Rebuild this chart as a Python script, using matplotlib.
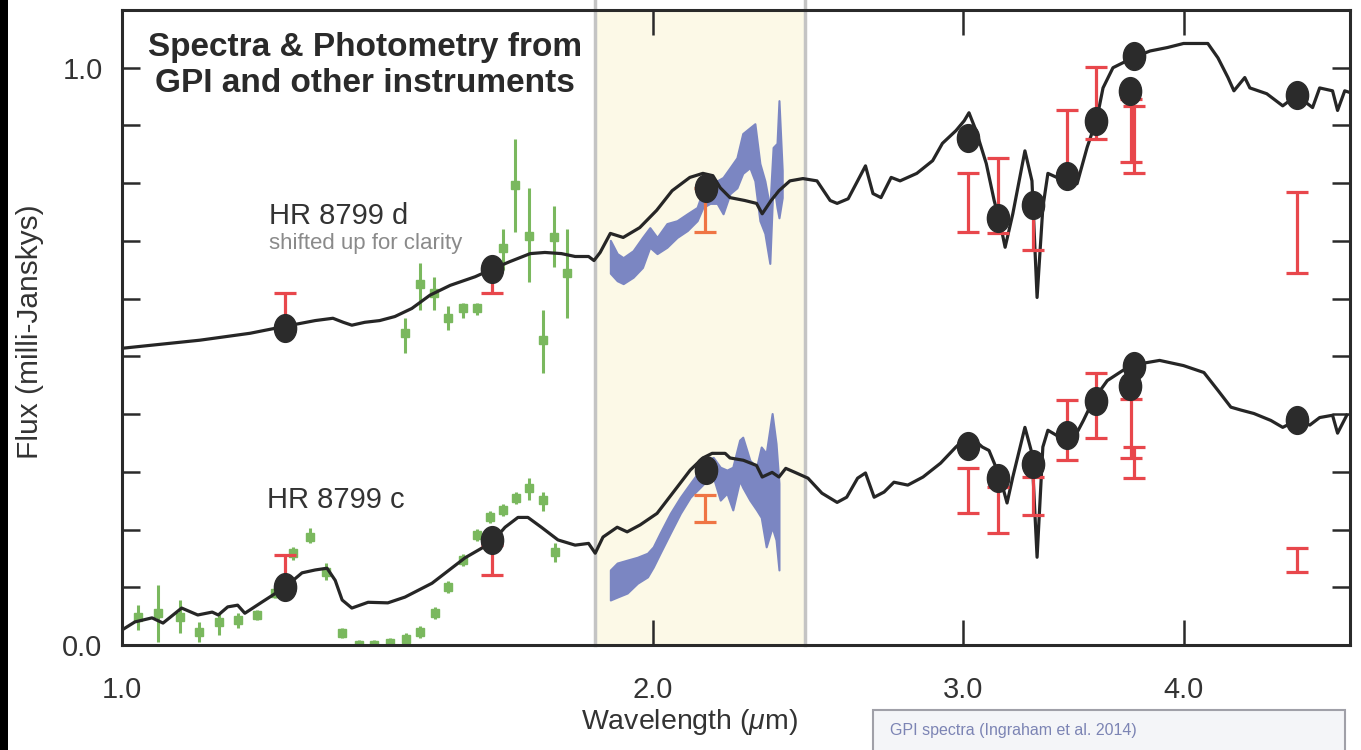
import matplotlib
matplotlib.use("Agg")
import matplotlib.pyplot as plt
from matplotlib.path import Path
from matplotlib.transforms import Affine2D
from matplotlib.patches import Rectangle
from matplotlib.ticker import NullLocator

plt.rcParams['font.family'] = ['Liberation Sans', 'DejaVu Sans']
plt.rcParams['mathtext.fontset'] = 'custom'
plt.rcParams['mathtext.rm'] = 'Liberation Sans'
plt.rcParams['mathtext.it'] = 'Liberation Sans:italic'

## Model spectra (wavelength in um, flux in mJy)
model_d_wl = [1.000, 1.107, 1.182, 1.237, 1.287, 1.317, 1.335, 1.350, 1.373, 1.400, 1.428, 1.460,
              1.495, 1.535, 1.586, 1.621, 1.659, 1.704, 1.737, 1.775, 1.807, 1.839, 1.852, 1.867,
              1.892, 1.924, 1.966, 2.010, 2.051, 2.099, 2.135, 2.163, 2.184, 2.212, 2.255, 2.290,
              2.307, 2.334, 2.358, 2.392, 2.433, 2.478, 2.521, 2.544, 2.581, 2.613, 2.640, 2.666,
              2.694, 2.730, 2.762, 2.823, 2.882, 2.919, 2.971, 3.003, 3.022, 3.050, 3.091, 3.123,
              3.147, 3.168, 3.200, 3.251, 3.281, 3.303, 3.328, 3.350, 3.389, 3.448, 3.480, 3.526,
              3.572, 3.600, 3.647, 3.742, 3.828, 3.916, 3.999, 4.128, 4.183, 4.238, 4.271, 4.332,
              4.361, 4.458, 4.552, 4.635, 4.733, 4.777, 4.858, 4.890, 4.936, 4.970]
model_d_flux = [0.514, 0.528, 0.540, 0.552, 0.562, 0.566, 0.559, 0.554, 0.559, 0.562, 0.569, 0.583,
                0.606, 0.623, 0.638, 0.651, 0.664, 0.678, 0.680, 0.678, 0.673, 0.673, 0.666, 0.680,
                0.713, 0.706, 0.723, 0.753, 0.787, 0.810, 0.817, 0.813, 0.792, 0.775, 0.770, 0.765,
                0.747, 0.770, 0.787, 0.804, 0.808, 0.804, 0.770, 0.765, 0.773, 0.804, 0.830, 0.782,
                0.775, 0.810, 0.804, 0.817, 0.839, 0.869, 0.891, 0.908, 0.922, 0.891, 0.834, 0.770,
                0.732, 0.689, 0.747, 0.856, 0.804, 0.602, 0.758, 0.817, 0.810, 0.817, 0.799, 0.862,
                0.913, 0.965, 1.000, 1.017, 1.029, 1.035, 1.042, 1.042, 1.017, 0.983, 0.960, 0.983,
                0.965, 0.955, 0.934, 0.952, 0.931, 0.965, 0.960, 0.926, 0.960, 0.957]

model_c_wl = [1.000, 1.017, 1.040, 1.055, 1.081, 1.104, 1.125, 1.134, 1.148, 1.163, 1.174, 1.200,
              1.237, 1.265, 1.287, 1.307, 1.321, 1.333, 1.350, 1.379, 1.415, 1.447, 1.499, 1.565,
              1.621, 1.649, 1.677, 1.699, 1.729, 1.767, 1.807, 1.839, 1.855, 1.874, 1.909, 1.934,
              1.967, 2.011, 2.064, 2.100, 2.135, 2.161, 2.198, 2.212, 2.251, 2.290, 2.307, 2.337,
              2.358, 2.379, 2.408, 2.449, 2.494, 2.544, 2.576, 2.613, 2.640, 2.670, 2.705, 2.740,
              2.790, 2.846, 2.912, 2.971, 3.022, 3.075, 3.102, 3.147, 3.176, 3.200, 3.251, 3.281,
              3.303, 3.328, 3.350, 3.402, 3.462, 3.509, 3.554, 3.620, 3.696, 3.792, 3.876, 3.999,
              4.107, 4.183, 4.254, 4.310, 4.384, 4.482, 4.552, 4.635, 4.716, 4.777, 4.858, 4.890, 4.949]
model_c_flux = [0.026, 0.040, 0.047, 0.038, 0.064, 0.052, 0.057, 0.052, 0.066, 0.069, 0.055, 0.074,
                0.100, 0.125, 0.130, 0.133, 0.112, 0.078, 0.064, 0.074, 0.073, 0.083, 0.107, 0.151,
                0.178, 0.204, 0.221, 0.221, 0.204, 0.182, 0.173, 0.176, 0.159, 0.187, 0.204, 0.196,
                0.208, 0.228, 0.273, 0.303, 0.324, 0.332, 0.332, 0.324, 0.320, 0.311, 0.291, 0.299,
                0.291, 0.306, 0.299, 0.289, 0.263, 0.247, 0.256, 0.289, 0.298, 0.256, 0.265, 0.282,
                0.277, 0.291, 0.315, 0.343, 0.363, 0.343, 0.337, 0.291, 0.246, 0.291, 0.377, 0.332,
                0.152, 0.343, 0.372, 0.360, 0.355, 0.389, 0.424, 0.458, 0.476, 0.488, 0.493, 0.484,
                0.472, 0.441, 0.412, 0.407, 0.401, 0.389, 0.377, 0.389, 0.381, 0.394, 0.398, 0.367, 0.398]

## Photometry (black dots)
phot_wl = [1.237, 1.621, 2.144, 3.018, 3.140, 3.285, 3.435, 3.567, 3.750, 3.730, 4.635]
phot_d = [0.550, 0.652, 0.791, 0.879, 0.739, 0.763, 0.813, 0.907, 1.021, 0.960, 0.953]
phot_c = [0.100, 0.182, 0.303, 0.344, 0.289, 0.313, 0.363, 0.422, 0.483, 0.448, 0.389]

## Other instruments photometry (red error ranges), the K-band one is orange
red_wl = [1.237, 1.621, 3.018, 3.140, 3.285, 3.435, 3.567, 3.732, 3.747, 4.635]
red_d_lo = [0.550, 0.609, 0.715, 0.713, 0.684, 0.818, 0.877, 0.836, 0.817, 0.644]
red_d_hi = [0.609, 0.652, 0.817, 0.844, 0.761, 0.926, 1.002, 0.946, 0.934, 0.784]
red_c_lo = [0.100, 0.121, 0.228, 0.194, 0.225, 0.320, 0.358, 0.324, 0.289, 0.126]
red_c_hi = [0.156, 0.173, 0.306, 0.273, 0.291, 0.424, 0.472, 0.427, 0.343, 0.168]
orange_wl = [2.141]
orange_d_lo, orange_d_hi = [0.715], [0.791]
orange_c_lo, orange_c_hi = [0.213], [0.260]

## Green spectra from other instruments
green_d_wl = [1.447, 1.476, 1.503, 1.530, 1.561, 1.590, 1.644, 1.670, 1.702, 1.733, 1.758, 1.788]
green_d = [0.540, 0.626, 0.609, 0.567, 0.583, 0.583, 0.687, 0.796, 0.709, 0.528, 0.706, 0.644]
green_d_lo = [0.505, 0.580, 0.580, 0.545, 0.566, 0.571, 0.649, 0.715, 0.628, 0.471, 0.654, 0.567]
green_d_hi = [0.567, 0.661, 0.637, 0.588, 0.593, 0.593, 0.721, 0.877, 0.791, 0.580, 0.761, 0.721]

green_c_wl = [1.021, 1.048, 1.079, 1.106, 1.135, 1.164, 1.193, 1.221, 1.250, 1.278, 1.305, 1.333,
              1.363, 1.390, 1.419, 1.449, 1.476, 1.505, 1.530, 1.561, 1.590, 1.617, 1.644, 1.672,
              1.702, 1.733, 1.760]
green_c = [0.048, 0.055, 0.048, 0.022, 0.040, 0.043, 0.052, 0.090, 0.159, 0.187, 0.126, 0.021,
           0.000, 0.000, 0.003, 0.010, 0.022, 0.055, 0.100, 0.147, 0.190, 0.221, 0.234, 0.254,
           0.272, 0.251, 0.161]
green_c_lo = [0.026, 0.005, 0.021, 0.005, 0.017, 0.029, 0.043, 0.081, 0.147, 0.176, 0.112, 0.012,
              -0.008, -0.008, -0.005, 0.000, 0.012, 0.045, 0.090, 0.137, 0.180, 0.211, 0.223, 0.244,
              0.251, 0.232, 0.144]
green_c_hi = [0.069, 0.104, 0.078, 0.040, 0.055, 0.055, 0.061, 0.099, 0.170, 0.202, 0.142, 0.029,
              0.008, 0.008, 0.012, 0.020, 0.033, 0.066, 0.111, 0.158, 0.201, 0.232, 0.244, 0.265,
              0.289, 0.265, 0.177]

## GPI spectra (blue, lower / upper envelope)
gpi_d_wl = [1.892, 1.909, 1.924, 1.949, 1.973, 1.992, 2.011, 2.037, 2.064, 2.092, 2.119, 2.135,
            2.155, 2.175, 2.192, 2.212, 2.232, 2.249, 2.270, 2.285, 2.300, 2.315, 2.330, 2.340,
            2.352, 2.358, 2.368]
gpi_d_lo = [0.644, 0.631, 0.626, 0.637, 0.654, 0.689, 0.678, 0.689, 0.706, 0.718, 0.735, 0.758,
            0.765, 0.765, 0.747, 0.782, 0.792, 0.817, 0.827, 0.804, 0.735, 0.713, 0.661, 0.804,
            0.758, 0.740, 0.775]
gpi_d_hi = [0.701, 0.678, 0.671, 0.683, 0.706, 0.723, 0.706, 0.730, 0.735, 0.747, 0.758, 0.787,
            0.810, 0.804, 0.810, 0.827, 0.844, 0.886, 0.896, 0.903, 0.834, 0.804, 0.758, 0.862,
            0.869, 0.943, 0.822]
gpi_c_wl = [1.892, 1.909, 1.934, 1.960, 1.986, 2.001, 2.019, 2.046, 2.073, 2.100, 2.127, 2.146,
            2.164, 2.184, 2.203, 2.220, 2.240, 2.249, 2.270, 2.290, 2.304, 2.319, 2.337, 2.349, 2.358]
gpi_c_lo = [0.078, 0.083, 0.090, 0.107, 0.118, 0.135, 0.159, 0.194, 0.228, 0.256, 0.273, 0.285,
            0.291, 0.251, 0.263, 0.234, 0.285, 0.273, 0.251, 0.234, 0.221, 0.170, 0.204, 0.182, 0.130]
gpi_c_hi = [0.130, 0.142, 0.147, 0.152, 0.159, 0.170, 0.194, 0.228, 0.256, 0.280, 0.303, 0.320,
            0.325, 0.308, 0.303, 0.308, 0.355, 0.360, 0.320, 0.308, 0.343, 0.332, 0.401, 0.349, 0.280]

band = (1.855, 2.44)

# Colours
BLACK = '#262626'
RED = '#e8474c'
ORANGE = '#ef7544'
GREEN = '#7ab85e'
BLUE = '#7b86c2'

fig = plt.figure(figsize=(13.61, 7.5), dpi=100)
ax = fig.add_axes([122 / 1361, 105 / 750, 1228 / 1361, 635 / 750])

# GPI band
ax.axvspan(band[0], band[1], color='#fcf9e7', zorder=0, lw=0)
for b in band:
    ax.plot([b, b], [0, 1.116], color='#c4c4c4', lw=2.5, zorder=1, clip_on=False)

# green
for wl, f, lo, hi in [(green_d_wl, green_d, green_d_lo, green_d_hi),
                      (green_c_wl, green_c, green_c_lo, green_c_hi)]:
    yerr = [[a - b for a, b in zip(f, lo)], [b - a for a, b in zip(f, hi)]]
    ax.errorbar(wl, f, yerr=yerr, fmt='s', color=GREEN, ms=5.5, elinewidth=2.2, capsize=0, zorder=2)

# blue GPI spectra
ax.fill_between(gpi_d_wl, gpi_d_lo, gpi_d_hi, color=BLUE, lw=1.5, edgecolor=BLUE, zorder=3)
ax.fill_between(gpi_c_wl, gpi_c_lo, gpi_c_hi, color=BLUE, lw=1.5, edgecolor=BLUE, zorder=3)

# model curves
ax.plot(model_d_wl, model_d_flux, color=BLACK, lw=2.3, zorder=4)
ax.plot(model_c_wl, model_c_flux, color=BLACK, lw=2.3, zorder=4)


def ranges(wl, lo, hi, color):
    mid = [(a + b) / 2 for a, b in zip(lo, hi)]
    err = [(b - a) / 2 for a, b in zip(lo, hi)]
    ax.errorbar(wl, mid, yerr=err, fmt='none', ecolor=color, elinewidth=2.3,
                capsize=8, capthick=2.3, zorder=5)


ranges(red_wl, red_d_lo, red_d_hi, RED)
ranges(red_wl, red_c_lo, red_c_hi, RED)
ranges(orange_wl, orange_d_lo, orange_d_hi, ORANGE)
ranges(orange_wl, orange_c_lo, orange_c_hi, ORANGE)

# black photometry dots (slightly oval)
oval = Affine2D().scale(0.8, 1.0).transform_path(Path.unit_circle())
ax.plot(phot_wl, phot_d, linestyle='None', marker=oval, ms=20, color='#2b2b2b', zorder=6)
ax.plot(phot_wl, phot_c, linestyle='None', marker=oval, ms=20, color='#2b2b2b', zorder=6)

# axes
ax.set_xscale('log')
ax.set_xlim(1.0, 4.97)
ax.set_ylim(0, 1.1)
ax.xaxis.set_minor_locator(NullLocator())
ax.set_xticks([1, 2, 3, 4])
ax.set_xticklabels(['1.0', '2.0', '3.0', '4.0'])
yt = [i / 10 for i in range(11)]
ax.set_yticks(yt)
ax.set_yticklabels(['0.0'] + [''] * 9 + ['1.0'])
ax.tick_params(axis='x', direction='in', length=18, width=1.8, color='#2a2a2a',
               top=True, pad=22, labelsize=21, labelcolor='#333333')
ax.tick_params(axis='y', direction='in', length=13, width=1.8, color='#2a2a2a',
               right=True, pad=14, labelsize=21, labelcolor='#333333')
for s in ax.spines.values():
    s.set_linewidth(2.2)
    s.set_color('#2a2a2a')
    s.set_zorder(7)

ax.set_xlabel(r'Wavelength ($\mu$m)', fontsize=20.5, color='#333333', va='center')
ax.xaxis.set_label_coords((690 - 122) / 1228, (645 - 722) / 635)
ax.set_ylabel('Flux (milli-Janskys)', fontsize=21.5, color='#333333', va='center')
ax.yaxis.set_label_coords((30 - 122) / 1228, (645 - 332) / 635)

# annotations
ax.text(0.198, 0.913, 'Spectra & Photometry from\nGPI and other instruments', transform=ax.transAxes,
        ha='center', va='center', fontsize=24, fontweight='bold', color='#2a2a2a', linespacing=1.2)
ax.text(1.212, 0.744, 'HR 8799 d', fontsize=21, color='#333333', va='center')
ax.text(1.212, 0.695, 'shifted up for clarity', fontsize=16, color='#8a8a8a', va='center')
ax.text(1.209, 0.251, 'HR 8799 c', fontsize=21, color='#333333', va='center')

# legend strip for GPI spectra
fig.patches.append(Rectangle((873 / 1361, -0.01), 472 / 1361, 40 / 750 + 0.01,
                             transform=fig.transFigure, facecolor='#f4f5f8', edgecolor='#a0a0a8',
                             lw=1.5, zorder=0))
fig.text(890 / 1361, 1 - 730 / 750, 'GPI spectra (Ingraham et al. 2014)', fontsize=11.5,
         color='#7c84b4', va='center')

# dark edge on the left of the original picture
fig.patches.append(Rectangle((0, 0), 8 / 1361, 1, transform=fig.transFigure,
                             facecolor='black', edgecolor='none'))

fig.savefig('out.png', dpi=100)
